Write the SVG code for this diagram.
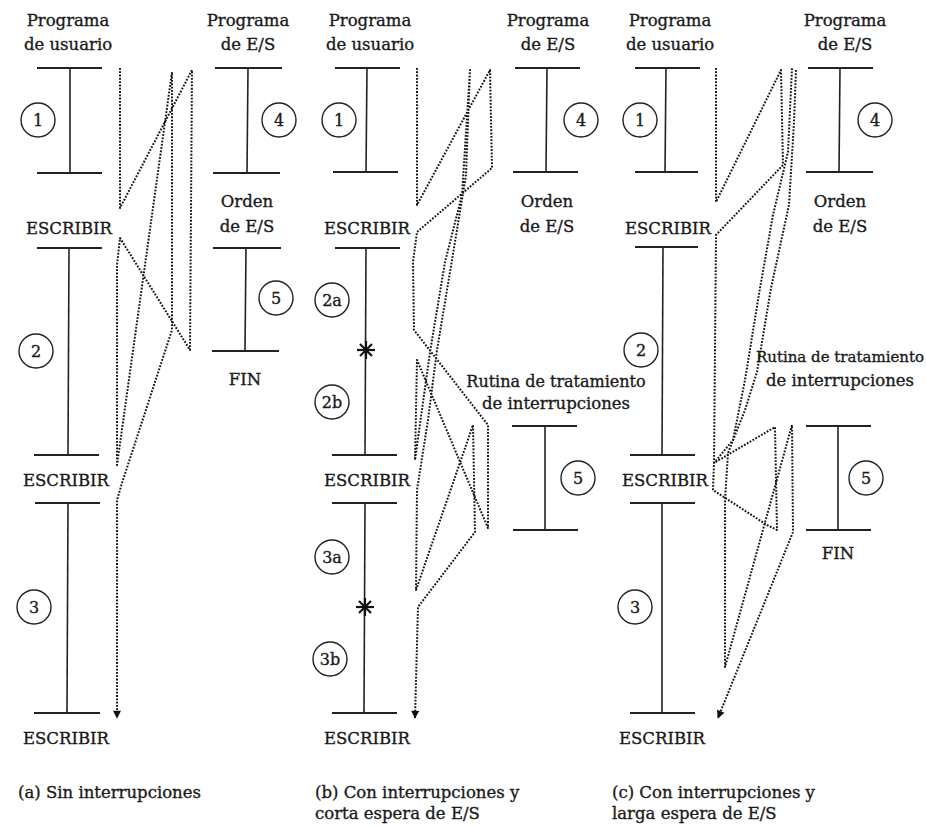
<svg xmlns="http://www.w3.org/2000/svg" width="926" height="826" viewBox="0 0 926 826">
<defs>
<style>
.bar{stroke:#222;stroke-width:2.2;fill:none}
.stem{stroke:#222;stroke-width:1.6;fill:none}
.flow{fill:none;stroke:#151515;stroke-width:2;stroke-dasharray:1.8 1.5;stroke-linejoin:round}
.t{font-family:"DejaVu Serif","Liberation Serif",serif;font-size:16.5px;fill:#1a1a1a;stroke:#1a1a1a;stroke-width:0.35;text-anchor:middle}
.cap{font-family:"DejaVu Serif","Liberation Serif",serif;font-size:16.5px;fill:#1a1a1a;stroke:#1a1a1a;stroke-width:0.35}
.c{fill:#fff;stroke:#222;stroke-width:1.4}
.n{font-family:"DejaVu Serif","Liberation Serif",serif;font-size:16px;fill:#1a1a1a;stroke:#1a1a1a;stroke-width:0.35;text-anchor:middle}
.star{stroke:#111;stroke-width:2.2}
</style>
<marker id="ah" viewBox="0 0 10 10" refX="9" refY="5" markerWidth="9" markerHeight="8" markerUnits="userSpaceOnUse" orient="auto">
<path d="M0,0 L10,5 L0,10 Z" fill="#111"/>
</marker>
</defs>
<rect width="926" height="826" fill="#fff"/>

<!-- Panel (a) -->
<g id="a-user">
<text class="t" x="68" y="26">Programa</text>
<text class="t" x="68" y="50">de usuario</text>
<line class="bar" x1="37" y1="68" x2="102" y2="68"/>
<line class="stem" x1="70" y1="68" x2="70" y2="173"/>
<line class="bar" x1="37" y1="173" x2="102" y2="173"/>
<circle class="c" cx="38" cy="120" r="17"/><text class="n" x="38" y="126">1</text>
<text class="t" x="69" y="234">ESCRIBIR</text>
<line class="bar" x1="37" y1="248" x2="102" y2="248"/>
<line class="stem" x1="69" y1="248" x2="68" y2="455"/>
<line class="bar" x1="34" y1="455" x2="99" y2="455"/>
<circle class="c" cx="36" cy="351" r="17"/><text class="n" x="36" y="357">2</text>
<text class="t" x="66" y="486">ESCRIBIR</text>
<line class="bar" x1="35" y1="503" x2="100" y2="503"/>
<line class="stem" x1="68" y1="503" x2="67" y2="713"/>
<line class="bar" x1="34" y1="713" x2="100" y2="713"/>
<circle class="c" cx="34" cy="607" r="17"/><text class="n" x="34" y="613">3</text>
<text class="t" x="66" y="744">ESCRIBIR</text>
</g>
<g id="a-io">
<text class="t" x="248" y="26">Programa</text>
<text class="t" x="248" y="50">de E/S</text>
<line class="bar" x1="215" y1="68" x2="282" y2="68"/>
<line class="stem" x1="248" y1="68" x2="247" y2="173"/>
<line class="bar" x1="213" y1="173" x2="280" y2="173"/>
<circle class="c" cx="279" cy="120" r="17"/><text class="n" x="279" y="126">4</text>
<text class="t" x="247" y="207">Orden</text>
<text class="t" x="247" y="232">de E/S</text>
<line class="bar" x1="213" y1="248" x2="281" y2="248"/>
<line class="stem" x1="246" y1="248" x2="245" y2="351"/>
<line class="bar" x1="212" y1="351" x2="279" y2="351"/>
<circle class="c" cx="276" cy="298" r="17"/><text class="n" x="276" y="304">5</text>
<text class="t" x="245" y="385">FIN</text>
</g>
<g id="a-caption"><text class="cap" x="18" y="798">(a) Sin interrupciones</text></g>

<!-- Panel (b) -->
<g id="b-user">
<text class="t" x="370" y="26">Programa</text>
<text class="t" x="370" y="50">de usuario</text>
<line class="bar" x1="335" y1="68" x2="400" y2="68"/>
<line class="stem" x1="367" y1="68" x2="366" y2="172"/>
<line class="bar" x1="333" y1="172" x2="398" y2="172"/>
<circle class="c" cx="339" cy="120" r="17"/><text class="n" x="339" y="126">1</text>
<text class="t" x="367" y="234">ESCRIBIR</text>
<line class="bar" x1="335" y1="248" x2="400" y2="248"/>
<line class="stem" x1="366" y1="248" x2="365" y2="455"/>
<line class="bar" x1="332" y1="455" x2="397" y2="455"/>
<circle class="c" cx="332" cy="300" r="17"/><text class="n" x="332" y="306">2a</text>
<circle class="c" cx="332" cy="402" r="17"/><text class="n" x="332" y="408">2b</text>
<g class="star"><line x1="366" y1="341" x2="366" y2="359"/><line x1="357" y1="350" x2="375" y2="350"/><line x1="360" y1="344" x2="372" y2="356"/><line x1="372" y1="344" x2="360" y2="356"/></g>
<text class="t" x="367" y="486">ESCRIBIR</text>
<line class="bar" x1="332" y1="503" x2="397" y2="503"/>
<line class="stem" x1="365" y1="503" x2="364" y2="713"/>
<line class="bar" x1="332" y1="713" x2="397" y2="713"/>
<circle class="c" cx="332" cy="557" r="17"/><text class="n" x="332" y="563">3a</text>
<circle class="c" cx="330" cy="659" r="17"/><text class="n" x="330" y="665">3b</text>
<g class="star"><line x1="365" y1="598" x2="365" y2="616"/><line x1="356" y1="607" x2="374" y2="607"/><line x1="359" y1="601" x2="371" y2="613"/><line x1="371" y1="601" x2="359" y2="613"/></g>
<text class="t" x="367" y="744">ESCRIBIR</text>
</g>
<g id="b-io">
<text class="t" x="548" y="26">Programa</text>
<text class="t" x="548" y="50">de E/S</text>
<line class="bar" x1="515" y1="68" x2="580" y2="68"/>
<line class="stem" x1="547" y1="68" x2="546" y2="172"/>
<line class="bar" x1="513" y1="172" x2="578" y2="172"/>
<circle class="c" cx="581" cy="120" r="17"/><text class="n" x="581" y="126">4</text>
<text class="t" x="547" y="207">Orden</text>
<text class="t" x="547" y="232">de E/S</text>
</g>
<g id="b-isr">
<text class="t" x="556" y="387" style="font-size:16px">Rutina de tratamiento</text>
<text class="t" x="556" y="409">de interrupciones</text>
<line class="bar" x1="512" y1="426" x2="577" y2="426"/>
<line class="stem" x1="545" y1="426" x2="545" y2="530"/>
<line class="bar" x1="513" y1="530" x2="578" y2="530"/>
<circle class="c" cx="578" cy="478" r="17"/><text class="n" x="578" y="484">5</text>
</g>
<g id="b-caption">
<text class="cap" x="315" y="798">(b) Con interrupciones y</text>
<text class="cap" x="315" y="819">corta espera de E/S</text>
</g>

<!-- Panel (c) -->
<g id="c-user">
<text class="t" x="670" y="26">Programa</text>
<text class="t" x="670" y="50">de usuario</text>
<line class="bar" x1="635" y1="68" x2="700" y2="68"/>
<line class="stem" x1="666" y1="68" x2="665" y2="172"/>
<line class="bar" x1="635" y1="172" x2="698" y2="172"/>
<circle class="c" cx="640" cy="120" r="17"/><text class="n" x="640" y="126">1</text>
<text class="t" x="668" y="234">ESCRIBIR</text>
<line class="bar" x1="635" y1="247" x2="698" y2="247"/>
<line class="stem" x1="663" y1="247" x2="662" y2="455"/>
<line class="bar" x1="630" y1="455" x2="695" y2="455"/>
<circle class="c" cx="641" cy="350" r="17"/><text class="n" x="641" y="356">2</text>
<text class="t" x="665" y="486">ESCRIBIR</text>
<line class="bar" x1="630" y1="503" x2="695" y2="503"/>
<line class="stem" x1="662" y1="503" x2="662" y2="713"/>
<line class="bar" x1="630" y1="713" x2="695" y2="713"/>
<circle class="c" cx="635" cy="607" r="17"/><text class="n" x="635" y="613">3</text>
<text class="t" x="662" y="744">ESCRIBIR</text>
</g>
<g id="c-io">
<text class="t" x="845" y="26">Programa</text>
<text class="t" x="845" y="50">de E/S</text>
<line class="bar" x1="808" y1="68" x2="873" y2="68"/>
<line class="stem" x1="840" y1="68" x2="839" y2="172"/>
<line class="bar" x1="806" y1="172" x2="873" y2="172"/>
<circle class="c" cx="875" cy="120" r="17"/><text class="n" x="875" y="126">4</text>
<text class="t" x="840" y="207">Orden</text>
<text class="t" x="840" y="232">de E/S</text>
</g>
<g id="c-isr">
<text class="t" x="840" y="362" style="font-size:15px">Rutina de tratamiento</text>
<text class="t" x="840" y="386">de interrupciones</text>
<line class="bar" x1="806" y1="426" x2="871" y2="426"/>
<line class="stem" x1="838" y1="426" x2="838" y2="530"/>
<line class="bar" x1="806" y1="530" x2="871" y2="530"/>
<circle class="c" cx="866" cy="478" r="17"/><text class="n" x="866" y="484">5</text>
<text class="t" x="838" y="559">FIN</text>
</g>
<g id="c-caption">
<text class="cap" x="612" y="798">(c) Con interrupciones y</text>
<text class="cap" x="612" y="819">larga espera de E/S</text>
</g>

<!-- Connectors: execution flow -->
<g id="connectors">
<path class="flow" marker-end="url(#ah)" d="M120,68 L120,208 L192,70 L190,350 L120,238 L117,265 L117,465 L172,72 L172,330 L122,483 L117,500 L117,718"/>
<path class="flow" marker-end="url(#ah)" d="M417,68 L417,205 L490,70 L492,168 L417,232 L413,262 L414,330 L488,425 L488,528 L417,360 L415,460 L430,352 L445,262 L462,195 L470,70 L466,175 L452,260 L437,350 L428,420 L417,490 L416,590 L473,425 L475,532 L418,607 L415,718"/>
<path class="flow" d="M716,68 L716,202 L781,70 L783,165 L716,235 L714,463 L775,427 L777,530 L767,525 L713,490 L714,463 L733,440 L745,380 L760,288 L773,215 L788,152 L792,68"/>
<path class="flow" marker-end="url(#ah)" d="M796,70 L794,122 L789,205 L771,288 L757,372 L745,410 L728,453 L725,500 L725,667 L792,425 L793,532 L718,718"/>
</g>
</svg>
